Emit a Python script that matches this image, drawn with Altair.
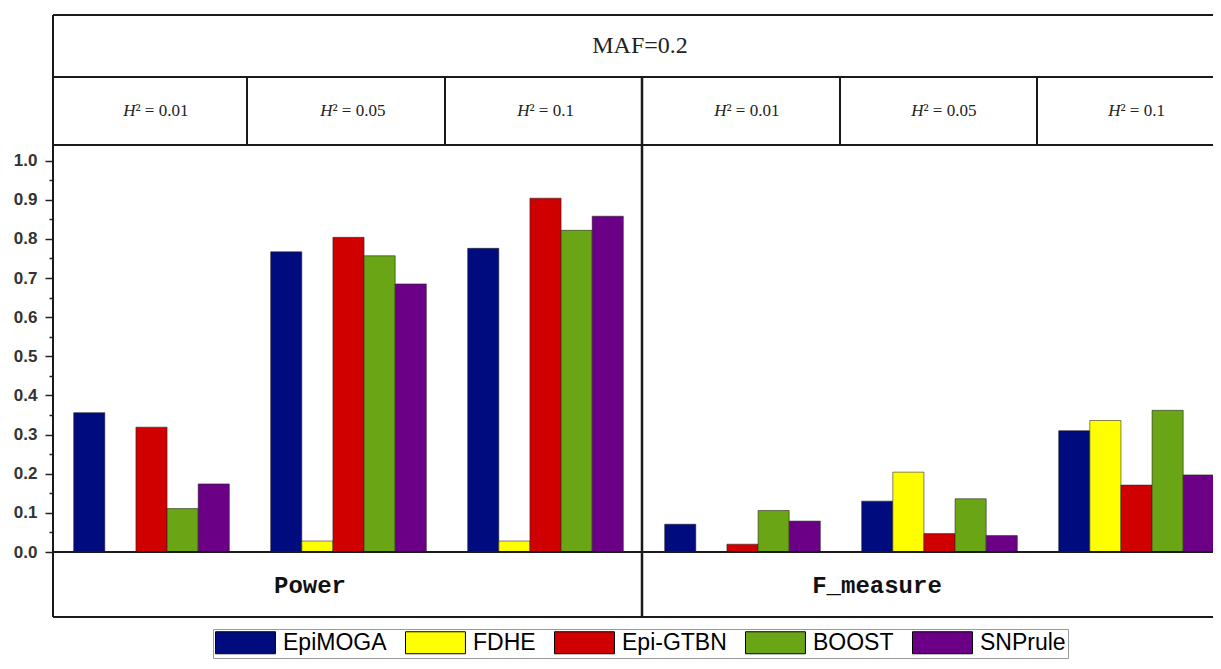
import altair as alt
import pandas as pd

# ---------------- data ----------------
methods = ["EpiMOGA", "FDHE", "Epi-GTBN", "BOOST", "SNPrule"]
method_colors = ["#000C7D", "#FFFF00", "#D00000", "#6AA516", "#6B0086"]

groups = ["Power 0.01", "Power 0.05", "Power 0.1", "F 0.01", "F 0.05", "F 0.1"]
h2_texts = ["\u00b2 = 0.01", "\u00b2 = 0.05", "\u00b2 = 0.1",
            "\u00b2 = 0.01", "\u00b2 = 0.05", "\u00b2 = 0.1"]

power_h2_001 = [0.356, 0.0, 0.319, 0.111, 0.174]
power_h2_005 = [0.767, 0.028, 0.804, 0.757, 0.685]
power_h2_01 = [0.776, 0.028, 0.904, 0.822, 0.858]
fmeasure_h2_001 = [0.071, 0.0, 0.020, 0.106, 0.079]
fmeasure_h2_005 = [0.130, 0.204, 0.047, 0.136, 0.042]
fmeasure_h2_01 = [0.310, 0.336, 0.171, 0.362, 0.197]

series = [power_h2_001, power_h2_005, power_h2_01,
          fmeasure_h2_001, fmeasure_h2_005, fmeasure_h2_01]

top_title = "MAF=0.2"
panel_titles = ["Power", "F_measure"]
y_ticks = [0.0, 0.05, 0.1, 0.15, 0.2, 0.25, 0.3, 0.35, 0.4, 0.45, 0.5,
           0.55, 0.6, 0.65, 0.7, 0.75, 0.8, 0.85, 0.9, 0.95, 1.0]

rows = []
for g, vals in zip(groups, series):
    for m, v in zip(methods, vals):
        rows.append({"group": g, "method": m, "value": v})
bars_df = pd.DataFrame(rows)
head_df = pd.DataFrame({"group": groups, "rest": h2_texts, "h": ["H"] * 6})
one = pd.DataFrame({"k": [0]})

# ---------------- scales ----------------
XR = 1182
x_scale = alt.Scale(domain=groups, range=[0, XR], paddingInner=0.21, paddingOuter=0.105)
major = "round(datum.value*100) % 10 == 0"

bars = alt.Chart(bars_df).mark_bar(stroke="#222", strokeWidth=0.8, strokeOpacity=0.7).encode(
    x=alt.X("group:N", scale=x_scale, axis=None),
    xOffset=alt.XOffset("method:N", scale=alt.Scale(domain=methods, paddingInner=0, paddingOuter=0)),
    y=alt.Y("value:Q", scale=alt.Scale(domain=[0, 1.04], nice=False, zero=True),
            axis=alt.Axis(values=y_ticks, title=None, grid=False, domain=False,
                          labelExpr=f"{major} ? format(datum.value, '.1f') : ''",
                          tickSize={"condition": {"test": major, "value": 8}, "value": 4},
                          tickColor="#222", tickWidth=1.5, labelOverlap=False,
                          labelFont="Liberation Sans", labelFontSize=17, labelFontWeight="bold",
                          labelColor="#333", labelPadding=8)),
    color=alt.Color("method:N", scale=alt.Scale(domain=methods, range=method_colors),
                    legend=alt.Legend(orient="none", legendX=160, legendY=484, direction="horizontal",
                                      columns=5, title=None,
                                      symbolType="M-1,-1L4.45,-1L4.45,1L-1,1Z",
                                      symbolSize=484, symbolStrokeColor="black", symbolStrokeWidth=1,
                                      symbolOpacity=1,
                                      labelFont="Liberation Sans", labelFontSize=23, labelColor="black",
                                      labelOffset=45, columnPadding=16, padding=2, strokeColor="#999")),
)


def hline(y, x0=0, x1=XR, w=2):
    return alt.Chart(one).mark_rule(color="#1a1a1a", strokeWidth=w).encode(
        x=alt.value(x0), x2=alt.value(x1), y=alt.value(y))


def vline(x, y0, y1, w=2):
    return alt.Chart(one).mark_rule(color="#1a1a1a", strokeWidth=w).encode(
        x=alt.value(x), y=alt.value(y0), y2=alt.value(y1))


frame = [
    hline(-130), hline(-68), hline(0), hline(407), hline(472),
    vline(0, -130, 472), vline(589, -68, 472, 2.5),
    vline(194, -68, 0), vline(392, -68, 0), vline(787, -68, 0), vline(984, -68, 0),
]

h_italic = alt.Chart(head_df).mark_text(font="Liberation Serif", fontSize=17, fontStyle="italic",
                                        align="right", baseline="middle", dx=-16, color="#222").encode(
    x=alt.X("group:N", scale=x_scale, axis=None), y=alt.value(-34), text="h:N")
h_rest = alt.Chart(head_df).mark_text(font="Liberation Serif", fontSize=17,
                                      align="left", baseline="middle", dx=-16, color="#222").encode(
    x=alt.X("group:N", scale=x_scale, axis=None), y=alt.value(-34), text="rest:N")

title_txt = alt.Chart(pd.DataFrame({"t": [top_title]})).mark_text(
    font="Liberation Serif", fontSize=24, align="center", baseline="middle", color="#222").encode(
    x=alt.value(587), y=alt.value(-99), text="t:N")

power_txt = alt.Chart(pd.DataFrame({"t": [panel_titles[0]]})).mark_text(
    font="Liberation Mono", fontSize=24, fontWeight="bold", align="center", baseline="middle",
    color="#111").encode(x=alt.value(257), y=alt.value(441), text="t:N")
fm_txt = alt.Chart(pd.DataFrame({"t": [panel_titles[1]]})).mark_text(
    font="Liberation Mono", fontSize=24, fontWeight="bold", align="center", baseline="middle",
    color="#111").encode(x=alt.value(824), y=alt.value(441), text="t:N")

chart = alt.layer(bars, *frame, h_italic, h_rest, title_txt, power_txt, fm_txt).properties(
    width=1160, height=407,
    autosize=alt.AutoSizeParams(type="none"),
    padding={"left": 45, "top": 137, "right": 0, "bottom": 107},
).configure_view(stroke=None).configure(background="white")

chart.save("out.html", embed_options={"renderer": "svg", "actions": False})
